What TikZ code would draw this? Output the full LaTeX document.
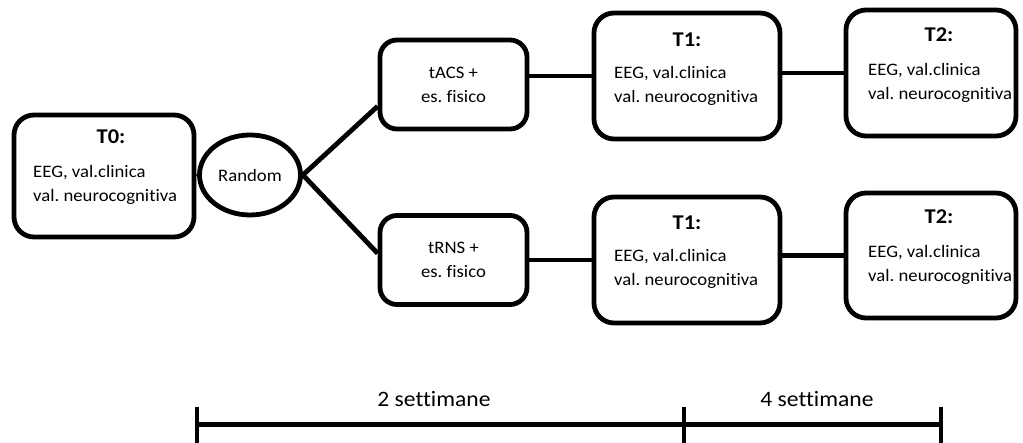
\documentclass[tikz,border=0pt]{standalone}
\usepackage{fontspec}
\setmainfont[FakeStretch=1.07, Ligatures=NoCommon]{Carlito}
\usetikzlibrary{positioning,shapes.geometric}
\frenchspacing

\begin{document}
\begin{tikzpicture}[x=1pt, y=1pt,
  phase/.style={draw, rounded corners=20pt, line width=4.8pt, inner sep=0pt},
  arm/.style={draw, rounded corners=17pt, line width=4.8pt, align=center,
    minimum width=147pt, minimum height=89pt, font=\fontsize{17.5}{24}\selectfont},
  head/.style={font=\fontsize{21}{25}\selectfont\bfseries, anchor=base},
  body/.style={font=\fontsize{17.5}{24}\selectfont, align=left, anchor=base west, inner sep=0pt},
  link/.style={line width=4.8pt}]
\useasboundingbox (0,0) rectangle (1023,442);
% Baseline
\node[phase, minimum width=180pt, minimum height=122pt] (t0) at (104,266) {};
\node[head] (t0head) at (111,298) {T0:};
\node[body] (t0body) at (33,240) {EEG, val.clinica\\val. neurocognitiva};
% Randomisation
\node[ellipse, draw, line width=4.8pt, minimum width=101pt, minimum height=80pt,
      inner sep=0pt, font=\fontsize{17.5}{24}\selectfont] (rand) at (250,267) {Random};
% Two arms
\node[arm] (tacs) at (453.5,357.5) {tACS +\\es. fisico};
\node[arm] (trns) at (453.5,182) {tRNS +\\es. fisico};
% Follow-up, upper arm
\node[phase, minimum width=186pt, minimum height=126pt] (t1top) at (687,366) {};
\node[head] (t1tophead) at (687,395) {T1:};
\node[body] (t1topbody) at (614,339) {EEG, val.clinica\\val. neurocognitiva};
\node[phase, minimum width=170pt, minimum height=126pt] (t2top) at (931,369) {};
\node[head] (t2tophead) at (939,400) {T2:};
\node[body] (t2topbody) at (868,342) {EEG, val.clinica\\val. neurocognitiva};
% Follow-up, lower arm
\node[phase, minimum width=186pt, minimum height=126pt] (t1bot) at (687,182) {};
\node[head] (t1bothead) at (687,212) {T1:};
\node[body] (t1botbody) at (614,156) {EEG, val.clinica\\val. neurocognitiva};
\node[phase, minimum width=170pt, minimum height=125pt] (t2bot) at (931,186.5) {};
\node[head] (t2bothead) at (939,218) {T2:};
\node[body] (t2botbody) at (868,160) {EEG, val.clinica\\val. neurocognitiva};
% Connectors
\draw[link] (t0.east) -- (rand.west);
\draw[link] (rand.east) -- (tacs.196);
\draw[link] (rand.east) -- (trns.175);
\draw[link] (tacs.east |- t1top.west) -- (t1top.west);
\draw[link] (t1top.east |- t2top.west) -- (t2top.west);
\draw[link] (trns.east) -- (trns.east -| t1bot.west);
\draw[link] (t1bot.east |- t2bot.west) -- (t2bot.west);
% Time line
\coordinate (w0) at (197,18);
\coordinate (w1) at (684,18);
\coordinate (w2) at (941,18);
\draw[line width=5pt] (w0) -- (w2);
\foreach \p in {w0,w1,w2}
  \draw[line width=4.8pt] ([yshift=17pt]\p) -- ([yshift=-20pt]\p);
\node[font=\fontsize{22}{26}\selectfont, anchor=base] (span1) at (434,35) {2 settimane};
\node[font=\fontsize{22}{26}\selectfont, anchor=base] (span2) at (817,35) {4 settimane};
\end{tikzpicture}
\end{document}
